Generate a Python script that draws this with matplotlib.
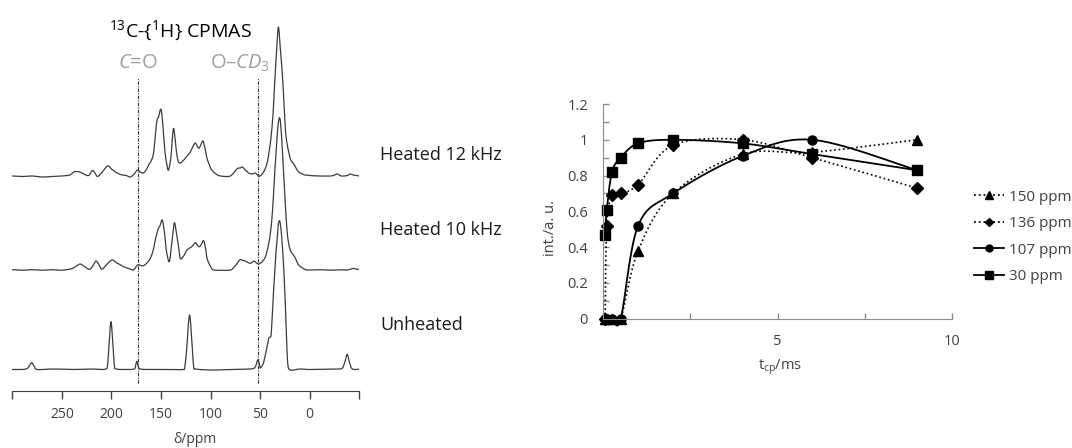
import matplotlib
matplotlib.use("Agg")
import matplotlib.pyplot as plt
from matplotlib.lines import Line2D
import numpy as np

plt.rcParams['font.family'] = ['Open Sans', 'DejaVu Sans']
plt.rcParams['mathtext.fontset'] = 'custom'
plt.rcParams['mathtext.rm'] = 'Open Sans'
plt.rcParams['mathtext.it'] = 'Open Sans:italic'

# ---- left panel: 13C CPMAS spectra, (ppm, intensity) ----
heated12_ppm = [300, 290, 280, 270, 260, 250, 242, 238, 235, 232, 228, 223, 219, 216, 214, 210, 204, 200,
                196, 192, 189, 185, 181, 177, 174, 171, 168, 165, 162.6, 160, 157.5, 155.5, 154, 152.5, 150,
                148, 146, 144, 142.4, 140, 138.5, 137.3, 136, 134, 131.6, 127, 123, 120.5, 117.5, 115.4, 113,
                111.4, 109.5, 107.6, 105.5, 104, 102, 99.5, 97, 93, 90, 85, 80, 76, 72.7, 70, 68, 65, 61.6, 58,
                55, 52, 50, 46, 43, 41, 39, 37, 35.6, 33.5, 31.6, 29.8, 27.9, 26, 24.5, 23, 21, 19.5, 17.8, 16,
                14.4, 12, 9.4, 5, 2.6, 0, -10, -21, -25, -27.7, -32, -38, -41, -44, -50]
heated12_int = [1, 0.5, 1, 0, 0.5, 1, 2, 5, 5.5, 5, 3, 1.5, 6.5, 3, 0.5, 4, 11, 8,
                5, 3, 2, 1.5, 0, 3, 7, 5, 4, 7, 12, 16, 24, 45, 57, 60, 67.7,
                50, 25, 12, 7, 20, 40, 48.7, 40, 22, 14, 17, 22, 25, 31, 34, 30,
                29, 33, 36, 28, 20, 14, 8, 5, 2, 1, 0.5, 1, 5, 8.7, 9, 10, 7, 4, 3,
                4, 1.5, 1, 6, 14, 25, 40, 63, 90, 125, 150, 130, 107, 75, 47, 34, 24, 18, 15, 13,
                10, 6, 4, 2, 2, 1.5, 1, 1, 2, 3, 1, 1.5, 3, 2, 1]

heated10_ppm = [300, 290, 280, 270, 260, 250, 240, 235, 231.5, 227, 222, 218, 215.4, 212, 209.6, 205, 199.5,
                195, 191, 187.8, 182, 177.7, 173.7, 170, 167.6, 164, 160.8, 158, 155.8, 153, 151, 148.7,
                146.5, 144.7, 141.7, 139.5, 137.5, 136.3, 134.5, 132, 130.5, 127, 123.8, 119, 115.4, 113,
                111, 109, 107, 105, 103.6, 100, 97, 90, 80, 75, 70.7, 68, 65, 60, 56.5, 54, 51.5, 48, 44.7,
                42, 39.7, 37.5, 35.5, 33.5, 32, 30.3, 28.8, 27, 25.5, 24, 22.5, 21.2, 19.5, 17.8, 16, 14.4,
                12, 9.4, 5, 2.6, -10, -20, -30, -37.8, -44, -47, -50]
heated10_int = [1, 0.5, 1, 0.5, 1, 0.5, 2, 5, 6.7, 4, 1.4, 6, 9.7, 5, 1.4, 6, 10.7,
                8, 6, 4, 2, 0.7, 5.7, 5, 5, 8, 12.4, 20, 30.7, 41.4, 45, 50.7,
                38, 20.7, 9, 25, 42, 48, 38, 22, 12, 15, 20.7, 24, 28, 25,
                24, 27, 30, 22, 12.4, 4, 0.7, 0.5, 0.7, 5, 10.7, 10.5, 9.7, 7.4, 9.7, 8, 6.7, 9, 14,
                24, 37.4, 60, 95, 125, 145, 153, 140, 110, 80, 55, 36, 27, 20, 17.4, 15, 12.4,
                7, 4, 1.5, 0.7, 1, 0.5, 1, 0.7, 2.3, 1.5, 1.5]

unheated_ppm = [300, 290, 285, 282.5, 280.4, 278, 275, 260, 240, 220, 210, 206, 204, 202.5, 200.5, 198.5,
                197, 195, 185, 177, 175.5, 174.3, 173, 171, 160, 140, 128, 126, 124, 122.5, 121.2, 120,
                118.5, 117, 115, 100, 80, 60, 55, 52.5, 50.5, 49.8, 47, 45, 43.7, 42.2, 41.4, 40, 39, 38,
                37, 35.8, 34.6, 33, 31.8, 30.6, 29.5, 28, 26.3, 25, 23.5, 22.2, 19.5, 10, 0, -20, -30, -33,
                -35.5, -37.8, -40, -42, -45, -50]
unheated_int = [0.5, 0.5, 1.5, 4.5, 7.3, 4, 0.5, 1, 0.5, 1, 0.5, 1, 4, 25, 48.3, 25,
                4, 1, 0.5, 1, 5, 8.7, 4, 1, 0.5, 0.5, 0.5, 3, 22, 45, 55, 45,
                22, 3, 1, 0, 0.5, 1, 3, 10, 5, 2, 6, 14, 20, 28, 31.7, 33, 35, 50,
                70, 90, 110, 130, 145, 149.3, 145, 130, 103, 75, 36.7, 6.7, 0, 1, 0.5, 1, 1, 2,
                8, 15.7, 8, 2, 0.5, 1]

spectrum_labels = ['Heated 12 kHz', 'Heated 10 kHz', 'Unheated']
marker_ppm = [173, 52]
ppm_ticks = [300, 250, 200, 150, 100, 50, 0, -50]
ppm_ticklabels = ['', '250', '200', '150', '100', '50', '0', '']

# ---- right panel: CP build-up curves ----
tcp = [0.05, 0.1, 0.25, 0.5, 1, 2, 4, 6, 9]
int_150 = [0, 0, 0, 0, 0.38, 0.70, 0.92, 0.93, 1.0]
int_136 = [0, 0.52, 0.69, 0.70, 0.75, 0.97, 1.0, 0.90, 0.73]
int_107 = [0, 0, 0, 0, 0.52, 0.70, 0.91, 1.0, 0.83]
int_30 = [0.47, 0.61, 0.82, 0.90, 0.98, 1.0, 0.98, 0.92, 0.83]
series_names = ['150 ppm', '136 ppm', '107 ppm', '30 ppm']


def smooth(x, y, n=30):
    # Excel-like smoothed line: cubic Bezier with Catmull-Rom control points
    P = np.column_stack([x, y]).astype(float)
    out = [P[0]]
    for i in range(len(P) - 1):
        p0 = P[i - 1] if i > 0 else P[i]
        p1, p2 = P[i], P[i + 1]
        p3 = P[i + 2] if i + 2 < len(P) else P[i + 1]
        c1 = p1 + (p2 - p0) / 6
        c2 = p2 - (p3 - p1) / 6
        t = np.linspace(0, 1, n)[1:, None]
        seg = (1 - t) ** 3 * p1 + 3 * (1 - t) ** 2 * t * c1 + 3 * (1 - t) * t ** 2 * c2 + t ** 3 * p2
        out.extend(seg)
    out = np.array(out)
    return out[:, 0], out[:, 1]


W, H = 1072, 448
fig = plt.figure(figsize=(W / 100, H / 100), dpi=100)

# left axes, in pixel-ish vertical units
axl = fig.add_axes([12.3 / W, 1 - 390.7 / H, (359.3 - 12.3) / W, (390.7 - 10) / H])
offsets = [213.7, 120.0, 20.7]
line_col = '#3c3c3c'
for (pp, ii), off in zip([(heated12_ppm, heated12_int), (heated10_ppm, heated10_int),
                          (unheated_ppm, unheated_int)], offsets):
    sx, sy = smooth(pp, ii, n=8)
    axl.plot(sx, sy + off, color=line_col, lw=0.9)
for m in marker_ppm:
    axl.plot([m, m], [8, 312.7], color='#333333', lw=0.8, ls=(0, (3, 1.2, 1, 1.2)))
axl.set_xlim(300, -50)
axl.set_ylim(0, 380.7)
for s in ['left', 'right', 'top']:
    axl.spines[s].set_visible(False)
axl.spines['bottom'].set_color('#404040')
axl.set_yticks([])
axl.set_xticks(ppm_ticks)
axl.set_xticklabels(ppm_ticklabels)
axl.tick_params(axis='x', direction='out', length=6, width=1, color='#404040',
                labelsize=10, labelcolor='#404040', pad=6)
axl.patch.set_alpha(0)

fig.text(195 / W, 1 - 439 / H, 'δ/ppm', ha='center', va='center', fontsize=10, color='#404040')
fig.text(181 / W, 1 - 31 / H, r'$^{13}$C-{$^{1}$H} CPMAS', ha='center', va='center', fontsize=14, color='black')
fig.text(138 / W, 1 - 63 / H, r'$\mathit{C}$=O', ha='center', va='center', fontsize=14.5, color='#a0a0a0')
fig.text(240 / W, 1 - 63 / H, r'O–$\mathit{CD_3}$', ha='center', va='center', fontsize=14.5, color='#a0a0a0')
for lab, yy in zip(spectrum_labels, [155, 230, 325]):
    fig.text(380 / W, 1 - yy / H, lab, ha='left', va='center', fontsize=13, color='#1a1a1a')

# right axes
axr = fig.add_axes([603.3 / W, 1 - 318.7 / H, (951.7 - 603.3) / W, (318.7 - 104) / H])
styles = [('^', ':', 7), ('D', ':', 6), ('o', '-', 6.5), ('s', '-', 7)]
handles = []
for vals, (mk, ls, ms) in zip([int_150, int_136, int_107, int_30], styles):
    sx, sy = smooth(tcp, vals)
    axr.plot(sx, sy, color='black', lw=1.3 if ls == '-' else 1.2, ls=ls, clip_on=False)
    axr.plot(tcp, vals, ls='none', marker=mk, ms=ms, color='black', clip_on=False)
    handles.append(Line2D([], [], color='black', ls=ls, lw=1.3, marker=mk, ms=ms - 1.5))
axr.set_xlim(0, 10)
axr.set_ylim(0, 1.2)
axr.set_xticks([0, 2.5, 5, 7.5, 10])
axr.set_xticklabels(['', '', '5', '', '10'])
axr.set_yticks([0, 0.2, 0.4, 0.6, 0.8, 1.0, 1.2])
axr.set_yticklabels(['0', '0.2', '0.4', '0.6', '0.8', '1', '1.2'])
axr.set_yticks(np.arange(0.1, 1.2, 0.2), minor=True)
for s in ['right', 'top']:
    axr.spines[s].set_visible(False)
for s in ['left', 'bottom']:
    axr.spines[s].set_color('#8c8c8c')
axr.tick_params(axis='both', which='both', direction='in', length=4, width=1, color='#8c8c8c',
                labelsize=10.5, labelcolor='#404040', pad=11)
axr.patch.set_alpha(0)

fig.text(780 / W, 1 - 367 / H, r'$\mathregular{t_{cp}}$/ms', ha='center', va='center', fontsize=10.5, color='#404040')
fig.text(550 / W, 1 - 228 / H, 'int./a. u.', ha='center', va='center', rotation=90, fontsize=10.5, color='#404040')

fig.legend(handles, series_names, loc='center left', bbox_to_anchor=(960 / W, 1 - 237 / H),
           frameon=False, fontsize=11, handlelength=2.0, handletextpad=0.3, labelspacing=0.75,
           labelcolor='#404040')

fig.savefig('out.png', dpi=100)
